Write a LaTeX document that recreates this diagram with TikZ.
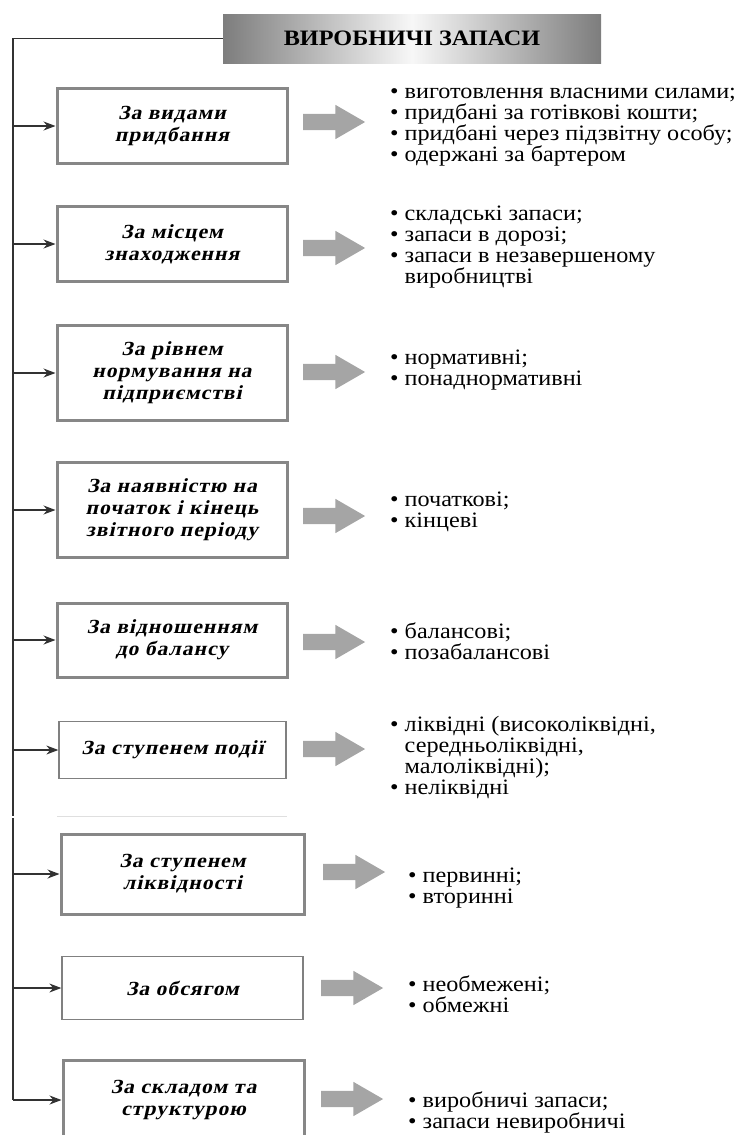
\documentclass[tikz,border=0pt]{standalone}
\usepackage{fontspec}
\setmainfont{Liberation Serif}[FakeStretch=1.1]
\newfontfamily\boxfont{Liberation Serif}[FakeStretch=1.08,FakeSlant=0.22,LetterSpace=5]
\usetikzlibrary{arrows.meta,shapes.arrows}

\definecolor{framegray}{RGB}{135,135,135}
\definecolor{arrowgray}{RGB}{165,165,165}
\definecolor{headgray}{RGB}{125,125,125}
\definecolor{linegray}{RGB}{50,50,50}

\newcommand{\bul}{\textbullet\ }

\tikzset{
    header/.style={minimum width=378pt, minimum height=49pt, inner sep=0pt,
        left color=headgray, right color=headgray, middle color=white!94!gray,
        font=\bfseries\fontsize{22}{24}\selectfont},
    kind/.style={draw=framegray, line width=3pt, fill=white, inner sep=0pt,
        minimum width=230pt, align=center,
        font=\boxfont\bfseries\fontsize{20}{22}\selectfont},
    kindthin/.style={kind, draw=gray, line width=1.3pt},
    bigarrow/.style={single arrow, fill=arrowgray, draw=none, inner xsep=0pt,
        inner ysep=8pt, minimum height=62pt, single arrow head extend=9pt,
        single arrow tip angle=60},
    items/.style={anchor=west, align=left, inner sep=0pt,
        font=\fontsize{22}{21}\selectfont},
    feed/.style={-{Stealth[length=12pt,width=9pt]}, line width=1.2pt, linegray},
    trunk/.style={line width=1.5pt, draw=linegray},
}

\begin{document}
\begin{tikzpicture}[x=1pt, y=-1pt]
    \useasboundingbox (0,0) rectangle (736,1135);

    \node[header] at (412, 38.5)(head){ВИРОБНИЧІ ЗАПАСИ};

    % classification boxes
    \node[kind, minimum height=75pt] at (172, 126)(b1){За видами\\придбання};
    \node[kind, minimum height=75pt] at (172, 244)(b2){За місцем\\знаходження};
    \node[kind, minimum height=95pt] at (172, 373)(b3){За рівнем\\нормування на\\підприємстві};
    \node[kind, minimum height=95pt] at (172, 510)(b4){За наявністю на\\початок і кінець\\звітного періоду};
    \node[kind, minimum height=74pt] at (172, 640)(b5){За відношенням\\до балансу};
    \node[kindthin, minimum width=227pt, minimum height=57pt] at (172.5, 750)(b6){За ступенем події};
    \node[kind, minimum width=243pt, minimum height=80pt] at (182.5, 874)(b7){За ступенем\\ліквідності};
    \node[kindthin, minimum width=241pt, minimum height=63pt] at (182.5, 988)(b8){За обсягом};
    \node[kind, minimum width=241pt, minimum height=80pt] at (183.5, 1100)(b9){За складом та\\структурою};

    % grey arrows
    \node[bigarrow] at (327, 122)(a1){};
    \node[bigarrow] at (327, 248)(a2){};
    \node[bigarrow] at (327, 372)(a3){};
    \node[bigarrow] at (327, 516)(a4){};
    \node[bigarrow] at (327, 642)(a5){};
    \node[bigarrow] at (327, 749)(a6){};
    \node[bigarrow] at (347, 872)(a7){};
    \node[bigarrow] at (345, 988)(a8){};
    \node[bigarrow] at (345, 1099)(a9){};

    % lists
    \node[items] at (390, 127)(l1){\bul виготовлення власними силами;\\\bul придбані за готівкові кошти;\\\bul придбані через підзвітну особу;\\\bul одержані за бартером};
    \node[items] at (390, 247)(l2){\bul складські запаси;\\\bul запаси в дорозі;\\\bul запаси в незавершеному\\\phantom{\bul}виробництві};
    \node[items] at (390, 370)(l3){\bul нормативні;\\\bul понаднормативні};
    \node[items] at (390, 512)(l4){\bul початкові;\\\bul кінцеві};
    \node[items] at (390, 641)(l5){\bul балансові;\\\bul позабалансові};
    \node[items] at (390, 757)(l6){\bul ліквідні (високоліквідні,\\\phantom{\bul}середньоліквідні,\\\phantom{\bul}малоліквідні);\\\bul неліквідні};
    \node[items] at (408, 888)(l7){\bul первинні;\\\bul вторинні};
    \node[items] at (408, 994)(l8){\bul необмежені;\\\bul обмежні};
    \node[items] at (408, 1112)(l9){\bul виробничі запаси;\\\bul запаси невиробничі};

    % trunk line
    \coordinate (top) at (13, 38.5);
    \coordinate (cut) at (13, 816);
    \coordinate (cut2) at (13, 818);
    \draw[trunk] (head.west) -- (top) -- (cut);
    \draw[trunk] (cut2) -- (b9.west -| top);
    \draw[gray!25, line width=1pt] (57, 816) -- (287, 816);

    \path[feed]
        (b1.west -| top) edge (b1.west)
        (b2.west -| top) edge (b2.west)
        (b3.west -| top) edge (b3.west)
        (b4.west -| top) edge (b4.west)
        (b5.west -| top) edge (b5.west)
        (b6.west -| top) edge (b6.west)
        (b7.west -| top) edge (b7.west)
        (b8.west -| top) edge (b8.west)
        (b9.west -| top) edge (b9.west)
        ;
\end{tikzpicture}
\end{document}
